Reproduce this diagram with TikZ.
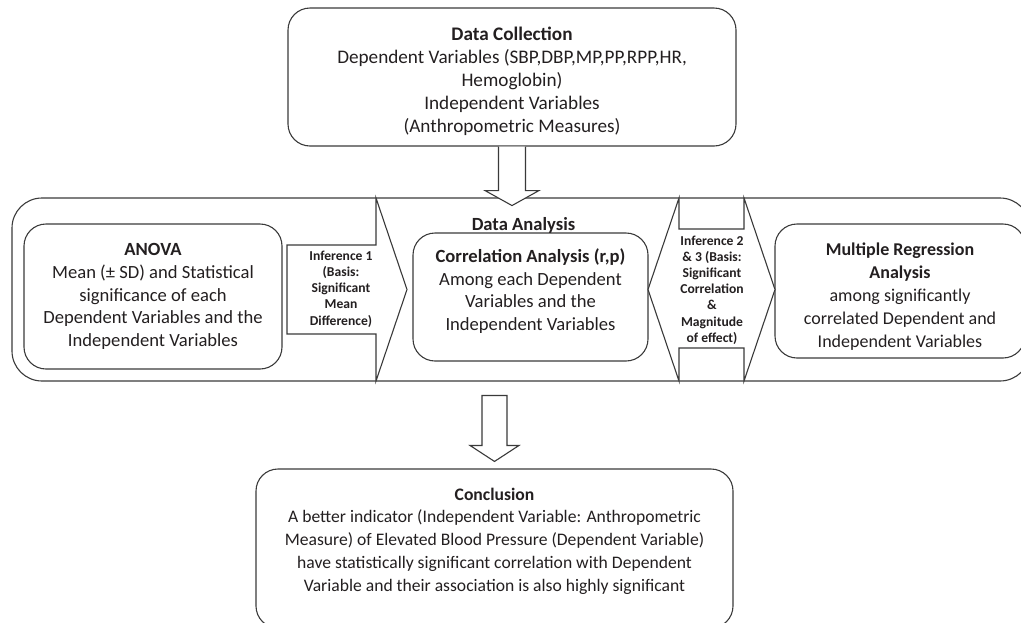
\documentclass[tikz,border=0pt]{standalone}
\usepackage{fontspec}
\setmainfont{Carlito}
\usetikzlibrary{positioning}
\definecolor{inkgray}{HTML}{231F20}
\definecolor{linegray}{HTML}{3A3A3A}

\begin{document}
\begin{tikzpicture}[
  x=1pt, y=-1pt,
  box/.style={draw=linegray, line width=1.1pt, rounded corners=22pt, align=center, inner sep=0pt,
    text=inkgray, font=\fontsize{18.6}{22.8}\selectfont},
  band/.style={draw=linegray, line width=1.1pt, rounded corners=30pt, inner sep=0pt},
  blockarrow/.style={draw=linegray, fill=white, line width=1.1pt},
  inflabel/.style={align=center, text=inkgray, font=\fontsize{13.6}{16.2}\selectfont\bfseries},
  title/.style={text=inkgray, font=\fontsize{18.6}{22.8}\selectfont\bfseries}
]
\useasboundingbox (0,0) rectangle (1021,622);

% analysis band behind everything
\node[band, minimum width=1018pt, minimum height=183pt] (analysis) at (521,289.5) {};

\node[box, minimum width=448pt, minimum height=138pt, font=\fontsize{19.2}{23}\selectfont,
  text depth=1pt] (collect) at (512,77)
  {\rule{0pt}{19pt}\textbf{Data Collection}\\Dependent Variables (SBP,DBP,MP,PP,RPP,HR,\\Hemoglobin)\\Independent Variables\\(Anthropometric Measures)};
\node[box, minimum width=258pt, minimum height=145pt] (anova) at (153,296.5)
  {\textbf{ANOVA}\\Mean (± SD) and Statistical\\significance of each\\Dependent Variables and the\\Independent Variables};
\node[box, minimum width=235pt, minimum height=128pt, text depth=15pt] (corr) at (530.5,297)
  {\textbf{Correlation Analysis (r,p)}\\Among each Dependent\\Variables and the\\Independent Variables};
\node[box, minimum width=250pt, minimum height=134pt, font=\fontsize{18}{23}\selectfont] (regress) at (900,291)
  {\rule{0pt}{23pt}\textbf{Multiple Regression}\\\textbf{Analysis}\\among significantly\\correlated Dependent and\\Independent Variables};
\node[box, minimum width=477pt, minimum height=159pt, font=\fontsize{17.6}{22.7}\selectfont,
  text depth=18pt] (conclude) at (494.5,548.5)
  {\textbf{Conclusion}\\A better indicator (Independent Variable: Anthropometric\\Measure) of Elevated Blood Pressure (Dependent Variable)\\have statistically significant correlation with Dependent\\Variable and their association is also highly significant};
\node[title] (analysislabel) at (523.5,225) {Data Analysis};

% block arrows
\draw[blockarrow] ([xshift=-13.5pt]collect.south) -- ++(0,44) -- ++(-13.5,0) -- ++(27,15)
  -- ++(27,-15) -- ++(-13.5,0) -- ++(0,-44);
\draw[blockarrow] ([yshift=7pt]conclude.north) -- ++(-24.5,-16) -- ++(12,0) -- ++(0,-50)
  -- ++(25,0) -- ++(0,50) -- ++(12,0) -- cycle;
\draw[blockarrow] (287,245) -- (376,245) -- (376,198) -- (407,289.5) -- (376,381)
  -- (376,334) -- (287,334) -- cycle;
\draw[blockarrow] (648,289.5) -- (679,198) -- (679,229) -- (744,229) -- (744,198) -- (775,289.5)
  -- (744,381) -- (744,348) -- (679,348) -- (679,381) -- cycle;

\node[inflabel] (inf1) at (341,289) {Inference 1\\(Basis:\\Significant\\Mean\\Difference)};
\node[inflabel] (inf23) at (712,290) {Inference 2\\\& 3 (Basis:\\Significant\\Correlation\\\&\\Magnitude\\of effect)};
\end{tikzpicture}
\end{document}
